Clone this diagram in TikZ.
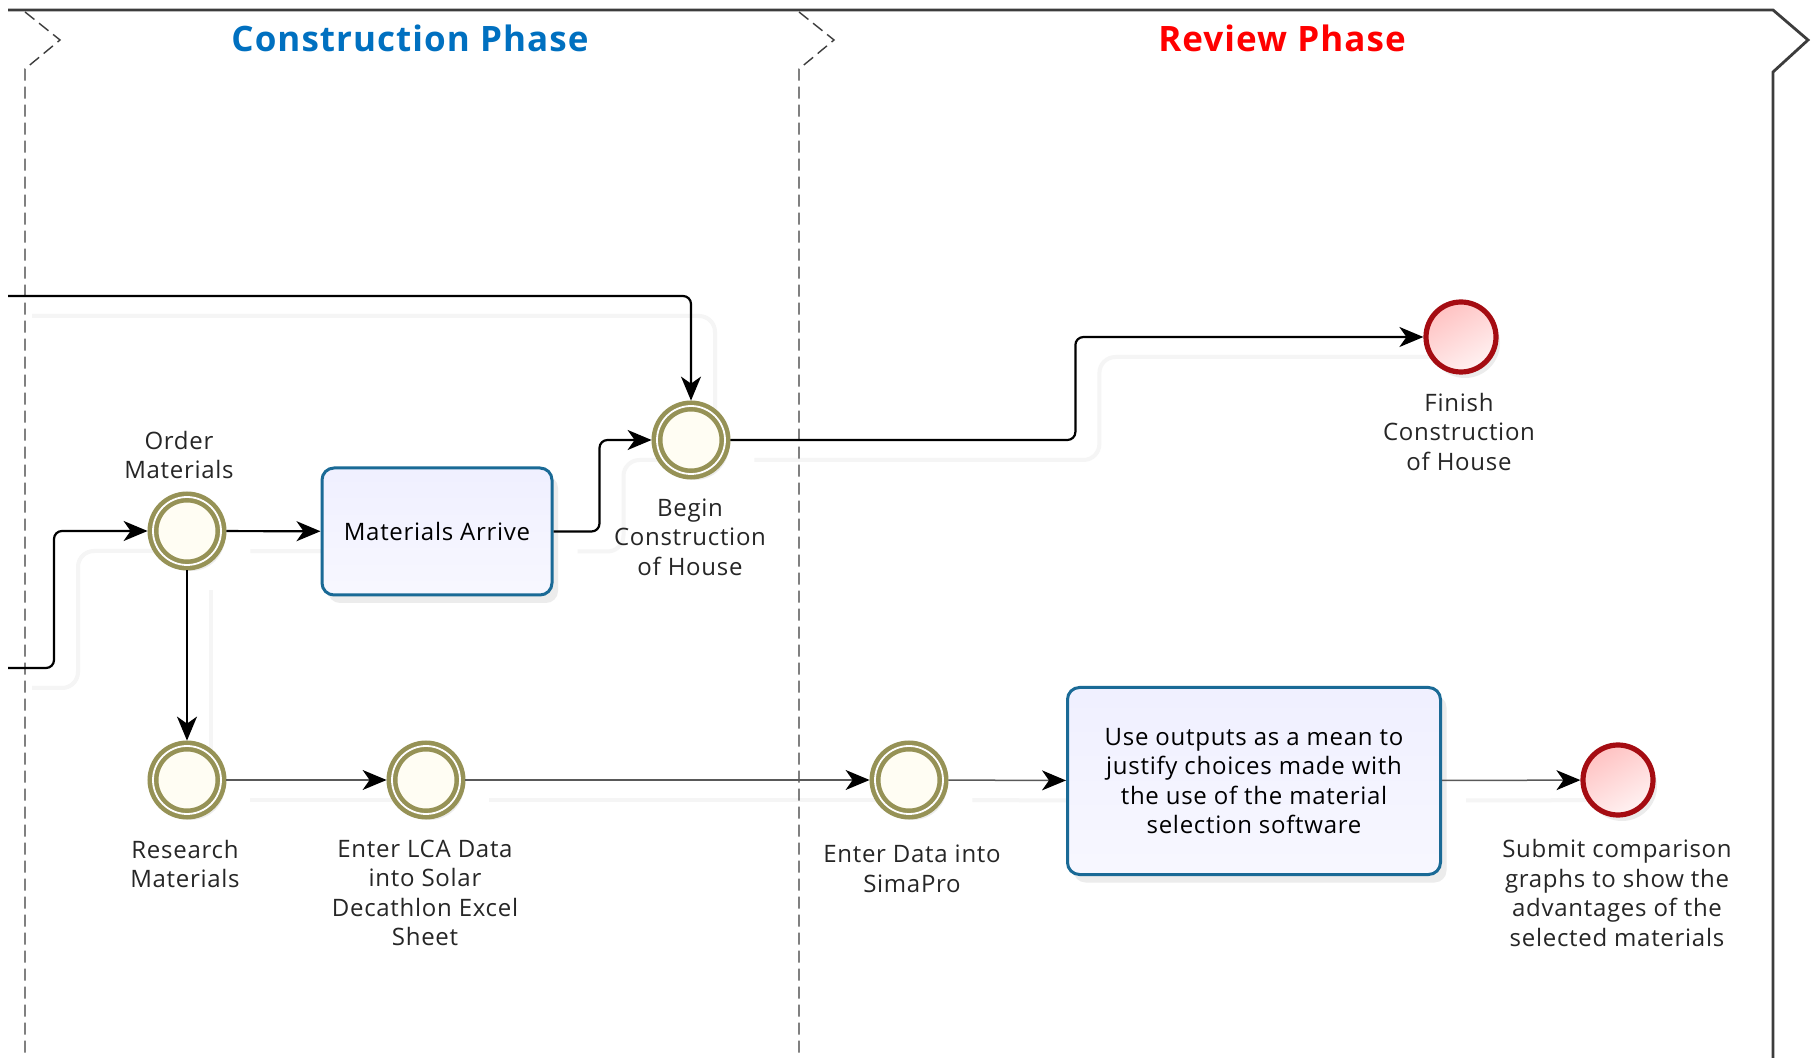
\documentclass[tikz,border=0pt]{standalone}
\usepackage{fontspec}
\setmainfont{Open Sans}[LetterSpace=3]
\usetikzlibrary{arrows.meta,shadows,backgrounds}

\definecolor{ringolive}{RGB}{150,146,86}
\definecolor{eventfill}{RGB}{255,253,243}
\definecolor{endred}{RGB}{165,12,18}
\definecolor{taskblue}{RGB}{26,106,150}
\definecolor{titleblue}{RGB}{0,112,192}
\definecolor{titlered}{RGB}{255,0,0}
\definecolor{lanegray}{RGB}{60,60,60}

% all sequence flows; #1 = style of the main flows, #2 = style of the data flows
\newcommand\seqflows[2]{%
  \draw[#1] (inlow) -- ++(46,0) |- (order.west);
  \draw[#1] (inhigh) -| (begin.north);
  \draw[#1] (order) -- (arrive);
  \draw[#1] (order) -- (research);
  \draw[#1] (arrive.east) -- ++(46,0) |- (begin.west);
  \draw[#1] (begin.east) -- ++(345,0) |- (finish.west);
  \draw[#2] (research) -- (lca);
  \draw[#2] (lca) -- (simapro);
  \draw[#2] (simapro) -- (use);
  \draw[#2] (use) -- (submit);
}

\begin{document}
\begin{tikzpicture}[x=0.5pt,y=-0.5pt,
  font=\fontsize{12}{14.7}\selectfont,
  evt/.style={circle, minimum size=34pt, inner sep=0pt, draw=ringolive,
    line width=2.3pt, double=white, double distance=0.9pt, fill=eventfill,
    outer sep=2.7pt,
    drop shadow={shadow xshift=2pt, shadow yshift=-3pt, opacity=0.15}},
  endevt/.style={circle, minimum size=35pt, inner sep=0pt, draw=endred,
    line width=2.6pt, top color=red!24, bottom color=red!5, shading angle=30,
    outer sep=1.3pt,
    drop shadow={shadow xshift=2pt, shadow yshift=-3pt, opacity=0.15}},
  task/.style={rectangle, rounded corners=6pt, draw=taskblue, line width=1.5pt,
    top color=blue!6, bottom color=blue!3, align=center, inner sep=2pt,
    drop shadow={shadow xshift=3pt, shadow yshift=-4pt, opacity=0.15}},
  lbl/.style={align=center, text=black!85, inner sep=0pt},
  phase/.style={font=\fontsize{17.5}{20}\selectfont\bfseries},
  lane/.style={draw=lanegray, line width=0.7pt, dash pattern=on 6pt off 3pt},
  pool/.style={draw=lanegray, line width=1.4pt},
  flowshade/.style={draw=black!4, line width=2pt, rounded corners=8pt,
    transform canvas={shift={(12pt,-10pt)}}},
  flow/.style={-{Stealth[length=12pt,width=10pt,inset=3.5pt]}, line width=1.1pt,
    black, rounded corners=4pt},
  thinflow/.style={-{Stealth[length=12pt,width=10pt,inset=3.5pt,color=black]},
    line width=0.75pt, draw=black!65}
]
\useasboundingbox (0,0) rectangle (1811,1058);

% pool outline and lane separators
\draw[pool] (8,10) -- (1773,10) -- (1808,40) -- (1773,72) -- (1773,1058);
\draw[lane] (25,12) -- (60,40) -- (25,69) -- (25,1058);
\draw[lane] (799,12) -- (834,40) -- (799,69) -- (799,1058);

% phase titles
\node[phase, text=titleblue] (contitle) at (410,38) {Construction Phase};
\node[phase, text=titlered] (revtitle) at (1282,38) {Review Phase};

% free ends of the flows coming from the previous phase
\coordinate (inlow) at (8,668);
\coordinate (inhigh) at (8,296);

% events and tasks
\node[evt] (order) at (187,531) {};
\node[task, minimum width=115pt, minimum height=63.5pt] (arrive) at (437,531.5) {Materials Arrive};
\node[evt] (begin) at (691,440) {};
\node[endevt] (finish) at (1461,337) {};
\node[evt] (research) at (187,780) {};
\node[evt] (lca) at (426,780) {};
\node[evt] (simapro) at (909,780) {};
\node[task, minimum width=186.5pt, minimum height=93.5pt] (use) at (1254,781)
  {Use outputs as a mean to\\justify choices made with\\the use of the material\\selection software};
\node[endevt] (submit) at (1618,780) {};

% event labels
\node[lbl] (orderlbl) at (179,455) {Order\\Materials};
\node[lbl] (beginlbl) at (690,537) {Begin\\Construction\\of House};
\node[lbl] (finishlbl) at (1459,432) {Finish\\Construction\\of House};
\node[lbl] (researchlbl) at (185,864) {Research\\Materials};
\node[lbl] (lcalbl) at (425,893) {Enter LCA Data\\into Solar\\Decathlon Excel\\Sheet};
\node[lbl] (simaprolbl) at (912,869) {Enter Data into\\SimaPro};
\node[lbl] (submitlbl) at (1617,893) {Submit comparison\\graphs to show the\\advantages of the\\selected materials};

% white page and soft shadows of the flows, behind everything else
\begin{scope}[on background layer]
  \fill[white] (0,0) rectangle (1811,1058);
  \seqflows{flowshade}{flowshade}
\end{scope}

% sequence flows
\seqflows{flow}{thinflow}
\end{tikzpicture}
\end{document}
